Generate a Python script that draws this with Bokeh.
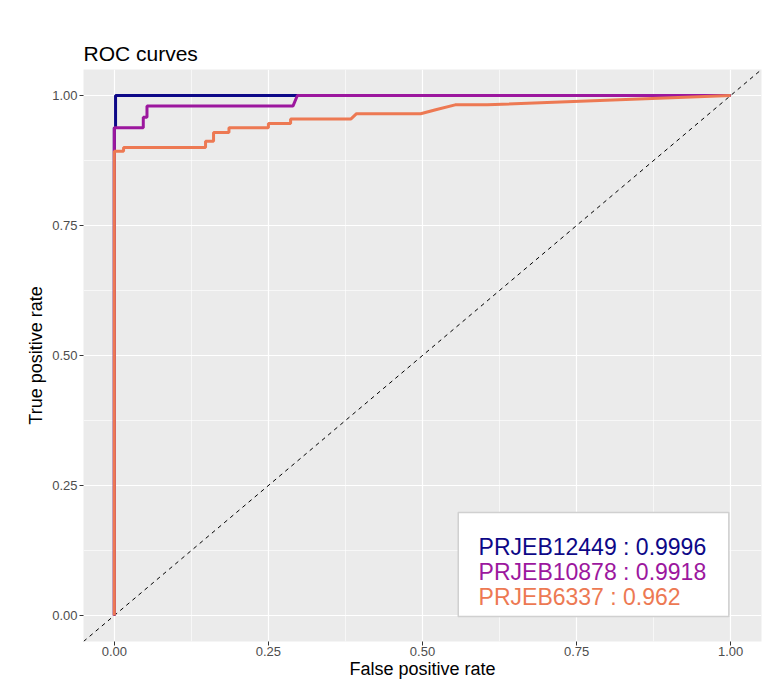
from bokeh.plotting import figure
from bokeh.models import Range1d, FixedTicker, ColumnDataSource
from bokeh.core.properties import value
from bokeh.embed import file_html
from bokeh.resources import INLINE

# ---- data ----
blue_fpr = [0.0, 0.0, 0.002, 0.002, 1.0]
blue_tpr = [0.0, 0.938, 0.938, 1.0, 1.0]

purple_fpr = [0.0, 0.0, 0.047, 0.047, 0.053, 0.053, 0.29, 0.297, 1.0]
purple_tpr = [0.0, 0.938, 0.938, 0.958, 0.958, 0.980, 0.980, 1.0, 1.0]

orange_fpr = [0.0, 0.0, 0.015, 0.015, 0.148, 0.148, 0.161, 0.161, 0.186, 0.186,
              0.25, 0.25, 0.286, 0.286, 0.384, 0.393, 0.497, 0.523, 0.553, 0.605, 1.0]
orange_tpr = [0.0, 0.893, 0.893, 0.900, 0.900, 0.912, 0.912, 0.929, 0.929, 0.938,
              0.938, 0.946, 0.946, 0.955, 0.955, 0.965, 0.965, 0.973, 0.982, 0.982, 1.0]

datasets = ["PRJEB12449", "PRJEB10878", "PRJEB6337"]
aucs = ["0.9996", "0.9918", "0.962"]
colors = ["#0D0887", "#9C179E", "#ED7953"]

ticks = [0.0, 0.25, 0.5, 0.75, 1.0]
minor = [0.125, 0.375, 0.625, 0.875]
tick_labels = {0.0: "0.00", 0.25: "0.25", 0.5: "0.50", 0.75: "0.75", 1.0: "1.00"}

FONT = "Liberation Sans"

p = figure(width=765, height=681, output_backend="svg", toolbar_location=None,
           x_range=Range1d(-0.05, 1.05), y_range=Range1d(-0.05, 1.05),
           min_border_left=83, min_border_right=4, min_border_top=69, min_border_bottom=30)

p.background_fill_color = "#EBEBEB"
p.border_fill_color = "white"
p.outline_line_color = None

p.title.text = "ROC curves"
p.title.text_font = FONT
p.title.text_font_size = "21px"
p.title.text_font_style = "normal"
p.title.text_color = "black"
p.title.standoff = 10

for ax in (p.xaxis[0], p.yaxis[0]):
    ax.ticker = FixedTicker(ticks=ticks, minor_ticks=minor)
    ax.major_label_overrides = tick_labels
    ax.axis_line_color = None
    ax.major_tick_in = 0
    ax.major_tick_out = 4
    ax.minor_tick_in = 0
    ax.minor_tick_out = 0
    ax.major_tick_line_color = "#333333"
    ax.major_tick_line_width = 1
    ax.major_label_text_font = FONT
    ax.major_label_text_font_size = "13px"
    ax.major_label_text_color = "#4D4D4D"
    ax.axis_label_text_font = FONT
    ax.axis_label_text_font_size = "18px"
    ax.axis_label_text_font_style = "normal"
    ax.axis_label_text_color = "black"

p.xaxis[0].major_label_standoff = 1
p.xaxis[0].axis_label_standoff = 0
p.yaxis[0].major_label_standoff = 2
p.yaxis[0].axis_label_standoff = 3

p.xaxis.axis_label = "False positive rate"
p.yaxis.axis_label = "True positive rate"

for g in p.grid:
    g.grid_line_color = "white"
    g.grid_line_width = 1.2
    g.minor_grid_line_color = "white"
    g.minor_grid_line_width = 0.6

# diagonal reference line
p.line([-0.05, 1.05], [-0.05, 1.05], line_color="black", line_width=1, line_dash="4 4")

# ROC curves
p.line(blue_fpr, blue_tpr, line_color=colors[0], line_width=3)
p.line(purple_fpr, purple_tpr, line_color=colors[1], line_width=3)
p.line(orange_fpr, orange_tpr, line_color=colors[2], line_width=3)

# legend box (drawn as a glyph so the text sits on top)
p.quad(left=[0.558], right=[0.997], bottom=[-0.002], top=[0.198],
       fill_color="white", line_color="#D0D0D0", line_width=1.5)

src = ColumnDataSource(dict(
    x=[0.591, 0.591, 0.591],
    y=[0.131, 0.083, 0.035],
    text=[f"{d} : {a}" for d, a in zip(datasets, aucs)],
    color=colors,
))
p.text(x="x", y="y", text="text", text_color="color", source=src,
       text_font=value(FONT), text_font_size="23px",
       text_baseline="alphabetic", text_align="left")

open("out.html", "w").write(file_html(p, INLINE))
